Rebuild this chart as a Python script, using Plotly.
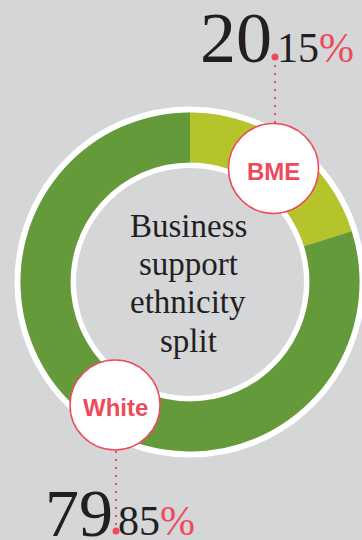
import plotly.graph_objects as go

# Ethnicity split of business support recipients (%)
categories = ["BME", "White"]
shares = [20.15, 79.85]
slice_colors = ["#b6c42b", "#659a3b"]
title_lines = ["Business", "support", "ethnicity", "split"]

W, H = 362, 540
BG = "#d5d6d8"
RED = "#ee4a5a"
INK = "#231f20"
SERIF = "Liberation Serif, Times New Roman, serif"
SANS = "Liberation Sans, Arial, sans-serif"

# ring geometry (pixels)
CX, CY = 190, 282
R_OUT, R_IN = 169.5, 119.5


def px(x):
    return x / W


def py(y):
    return 1 - y / H


fig = go.Figure()
fig.add_trace(go.Pie(
    labels=categories,
    values=shares,
    marker=dict(colors=slice_colors, line=dict(width=0)),
    hole=R_IN / R_OUT,
    sort=False,
    direction="clockwise",
    rotation=0,
    textinfo="none",
    hoverinfo="label+percent",
    showlegend=False,
    domain=dict(x=[px(CX - R_OUT), px(CX + R_OUT)],
                y=[py(CY + R_OUT), py(CY - R_OUT)]),
))

shapes = []
# white rims outside and inside the ring
for r, w in [(R_OUT + 3, 6), (R_IN - 2.75, 5.5)]:
    shapes.append(dict(type="circle", xref="paper", yref="paper", layer="below",
                       x0=px(CX - r), x1=px(CX + r), y0=py(CY + r), y1=py(CY - r),
                       line=dict(color="white", width=w), fillcolor="rgba(0,0,0,0)"))

# label badges: (centre x, centre y, radius, leader line x, leader top, leader bottom)
badges = [
    (273.5, 168.5, 45, 275, 57, 123),
    (115, 405, 45, 116, 451, 531),
]
dot_ends = [57, 531]
for (bx, by, br, lx, ly0, ly1), dy in zip(badges, dot_ends):
    shapes.append(dict(type="line", xref="paper", yref="paper", layer="above",
                       x0=px(lx), x1=px(lx), y0=py(ly0), y1=py(ly1),
                       line=dict(color=RED, width=2, dash="2px,6px")))
    shapes.append(dict(type="circle", xref="paper", yref="paper", layer="above",
                       x0=px(lx - 3.5), x1=px(lx + 3.5), y0=py(dy + 3.5), y1=py(dy - 3.5),
                       fillcolor=RED, line=dict(width=0)))
    shapes.append(dict(type="circle", xref="paper", yref="paper", layer="above",
                       x0=px(bx - br), x1=px(bx + br), y0=py(by + br), y1=py(by - br),
                       fillcolor="white", line=dict(color=RED, width=1.5)))

annotations = []
# badge captions
for name, (bx, by, br, *_rest) in zip(categories, badges):
    annotations.append(dict(text=f"<b>{name}</b>", x=px(bx), y=py(by + 2.5),
                            xref="paper", yref="paper", showarrow=False,
                            xanchor="center", yanchor="middle",
                            font=dict(family=SANS, size=24, color=RED)))

# centre title, one line at a time for tight leading
for line, base in zip(title_lines, [236.7, 275, 313.3, 351.7]):
    annotations.append(dict(text=line, x=px(188), y=py(base - 11.1),
                            xref="paper", yref="paper", showarrow=False,
                            xanchor="center", yanchor="middle",
                            font=dict(family=SERIF, size=33, color=INK)))

# big percentage figures: whole part large, decimals small with red %
SMALL = 42
figure_pos = [
    # (dot x, baseline, whole-size)
    (276, 62, 72),
    (117, 535, 68),
]
for v, (dx, base, big) in zip(shares, figure_pos):
    whole, dec = f"{v:.2f}".split(".")
    # boxes trimmed to the digit height so they sit inside the page
    annotations.append(dict(text=whole, x=px(dx - 4), y=py(base - 0.3375 * big),
                            xref="paper", yref="paper", showarrow=False,
                            xanchor="right", yanchor="middle",
                            height=round(0.78 * big), borderpad=0, borderwidth=0,
                            font=dict(family=SERIF, size=big, color=INK)))
    annotations.append(dict(text=f"{dec}<span style='color:{RED}'>%</span>",
                            x=px(dx + 1), y=py(base - 0.3375 * SMALL),
                            xref="paper", yref="paper", showarrow=False,
                            xanchor="left", yanchor="middle",
                            height=round(0.8 * SMALL), borderpad=0, borderwidth=0,
                            font=dict(family=SERIF, size=SMALL, color=INK)))

fig.update_layout(
    width=W, height=H,
    margin=dict(l=0, r=0, t=0, b=0),
    paper_bgcolor=BG,
    plot_bgcolor=BG,
    shapes=shapes,
    annotations=annotations,
)

fig.write_html("out.html", config={"displayModeBar": False})
